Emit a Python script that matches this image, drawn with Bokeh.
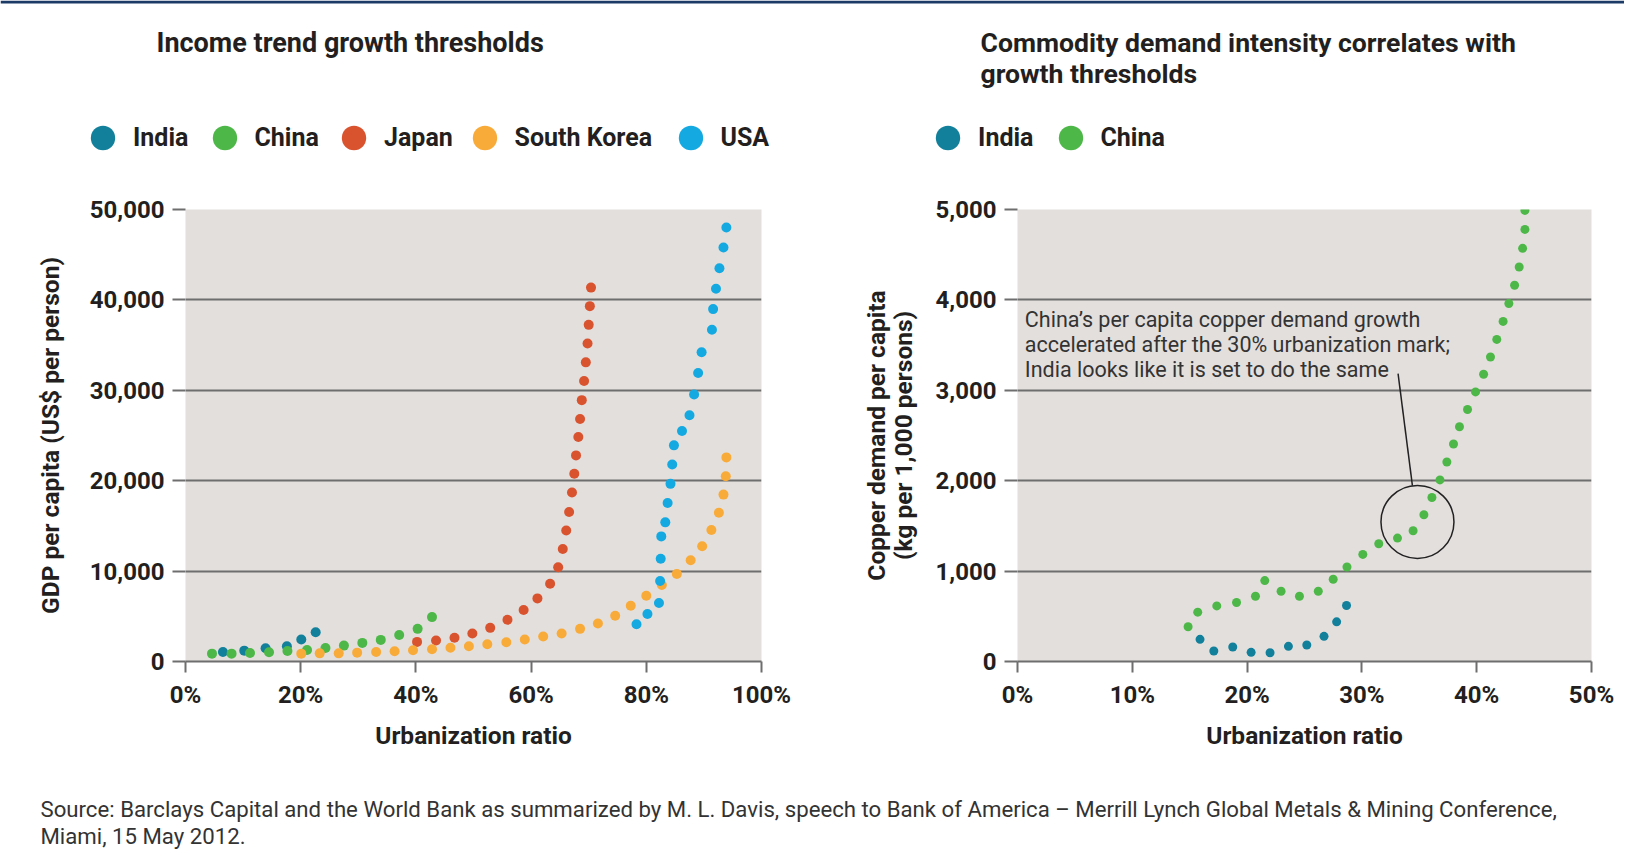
from bokeh.plotting import figure
from bokeh.models import (Legend, LegendItem, Label, FixedTicker, NumeralTickFormatter, Range1d, Span)
from bokeh.layouts import row, column
from bokeh.embed import file_html
from bokeh.resources import INLINE

# ---------------- data: left chart (urbanization %, GDP per capita US$) ----------------
india_x = [6.5, 10.2, 13.9, 17.6, 20.1, 22.6]
india_y = [1060, 1200, 1460, 1690, 2430, 3240]

china_x = [4.6, 8.0, 11.2, 14.5, 17.7, 21.1, 24.3, 27.5, 30.7, 33.9, 37.1, 40.3, 42.8]
china_y = [870, 870, 940, 1020, 1170, 1280, 1500, 1760, 2060, 2390, 2940, 3610, 4910]

japan_x = [40.2, 43.5, 46.7, 49.8, 52.9, 55.9, 58.7, 61.1, 63.3, 64.7, 65.5, 66.1, 66.6,
           67.1, 67.5, 67.8, 68.2, 68.5, 68.8, 69.2, 69.5, 69.8, 70.0, 70.2, 70.4]
japan_y = [2170, 2330, 2630, 3090, 3720, 4610, 5690, 6980, 8610, 10420, 12440, 14500, 16530,
           18690, 20760, 22800, 24830, 26830, 28910, 31020, 33090, 35170, 37240, 39310, 41360]

korea_x = [20.1, 23.3, 26.6, 29.8, 33.1, 36.3, 39.5, 42.8, 46.0, 49.2, 52.4, 55.7, 58.9, 62.1,
           65.3, 68.5, 71.6, 74.6, 77.3, 80.0, 82.7, 85.3, 87.7, 89.7, 91.3, 92.6, 93.4, 93.8, 93.9]
korea_y = [870, 900, 900, 980, 1060, 1130, 1240, 1350, 1520, 1690, 1910, 2130, 2430, 2760,
           3090, 3610, 4200, 5060, 6170, 7280, 8470, 9690, 11200, 12740, 14540, 16460, 18460, 20500, 22580]

usa_x = [78.3, 80.2, 82.2, 82.4, 82.5, 82.6, 83.3, 83.7, 84.2, 84.5, 84.8, 86.2, 87.5, 88.3,
         89.0, 89.6, 91.4, 91.6, 92.1, 92.7, 93.4, 93.9]
usa_y = [4130, 5260, 6480, 8900, 11360, 13840, 15390, 17540, 19650, 21800, 23910, 25500, 27240, 29530,
         31910, 34200, 36690, 38980, 41240, 43500, 45800, 48000]

# ---------------- data: right chart (urbanization %, copper kg per 1,000 persons) ----------------
india_cu_x = [15.9, 17.1, 18.75, 20.35, 22.0, 23.6, 25.2, 26.7, 27.8, 28.66]
india_cu_y = [245, 116, 160, 101, 97, 168, 182, 278, 439, 620]

china_cu_x = [14.86, 15.7, 17.36, 19.08, 20.73, 21.54, 22.96, 24.56, 26.2, 27.5, 28.7, 30.08, 31.47,
              33.1, 34.46, 35.4, 36.1, 36.8, 37.4, 37.98, 38.5, 39.2, 39.9, 40.6, 41.2, 41.75, 42.3,
              42.8, 43.3, 43.7, 44.0, 44.2, 44.2]
china_cu_y = [384, 546, 615, 653, 722, 895, 777, 722, 777, 910, 1045, 1185, 1303,
              1365, 1446, 1623, 1814, 2009, 2207, 2406, 2597, 2788, 2982, 3178, 3368, 3563, 3762,
              3960, 4162, 4364, 4570, 4780, 4990]

left_xticks = [0, 20, 40, 60, 80, 100]
left_xlabels = ["0%", "20%", "40%", "60%", "80%", "100%"]
left_yticks = [0, 10000, 20000, 30000, 40000, 50000]
right_xticks = [0, 10, 20, 30, 40, 50]
right_xlabels = ["0%", "10%", "20%", "30%", "40%", "50%"]
right_yticks = [0, 1000, 2000, 3000, 4000, 5000]

left_names = ["India", "China", "Japan", "South Korea", "USA"]
right_names = ["India", "China"]

left_title = "Income trend growth thresholds"
right_title = ["Commodity demand intensity correlates with", "growth thresholds"]
left_ylabel = "GDP per capita (US$ per person)"
right_ylabel = "Copper demand per capita\n(kg per 1,000 persons)"
xlabel = "Urbanization ratio"

note_lines = ["China\u2019s per capita copper demand growth",
              "accelerated after the 30% urbanization mark;",
              "India looks like it is set to do the same"]

source_lines = ["Source: Barclays Capital and the World Bank as summarized by M. L. Davis, speech to Bank of America \u2013 Merrill Lynch Global Metals & Mining Conference,",
                "Miami, 15 May 2012."]

# ---------------- styling ----------------
FONT = "Roboto"
TXT = "#231f20"
GRID = "#6e6e6e"
BG = "#e3dfdd"
C_INDIA = "#12809b"
C_CHINA = "#4db848"
C_JAPAN = "#d9532f"
C_KOREA = "#f9ab3a"
C_USA = "#14a9e1"
left_colors = [C_INDIA, C_CHINA, C_JAPAN, C_KOREA, C_USA]
right_colors = [C_INDIA, C_CHINA]

TOTAL_W = 1624
HEAD_H = 170
TOP_H = 600
FOOT_H = 80
FRAME_TOP = 209 - HEAD_H
FRAME_H = 452
W1 = 812
W2 = TOTAL_W - W1

# legend swatch centres (page pixels) in the header
left_legend_cx = [102.5, 224, 353.5, 484, 690]
right_legend_cx = [947.6, 1070]
LEGEND_CY = 137
GLYPH = 61


def base_fig(width, border_left, frame_w, xmax, ymax, xticks, xlabels, yticks, ylabel, ystandoff):
    p = figure(width=width, height=TOP_H, x_range=Range1d(0, xmax), y_range=Range1d(0, ymax),
               output_backend="svg", toolbar_location=None,
               min_border_left=border_left, min_border_right=width - border_left - frame_w,
               min_border_top=FRAME_TOP, min_border_bottom=TOP_H - FRAME_TOP - FRAME_H)
    p.background_fill_color = BG
    p.border_fill_color = "white"
    p.outline_line_color = None
    p.xgrid.grid_line_color = None
    p.ygrid.grid_line_color = GRID
    p.ygrid.grid_line_width = 2
    p.ygrid.ticker = FixedTicker(ticks=yticks)

    xa = p.xaxis[0]
    xa.ticker = FixedTicker(ticks=xticks)
    xa.major_label_overrides = {t: l for t, l in zip(xticks, xlabels)}
    xa.axis_line_color = GRID
    xa.axis_line_width = 2
    xa.major_tick_line_color = GRID
    xa.major_tick_line_width = 2
    xa.major_tick_in = 0
    xa.major_tick_out = 11
    xa.minor_tick_line_color = None
    xa.major_label_standoff = 8
    xa.major_label_text_font = FONT
    xa.major_label_text_font_style = "bold"
    xa.major_label_text_font_size = "24px"
    xa.major_label_text_color = TXT
    xa.axis_label = xlabel
    xa.axis_label_standoff = 9
    xa.axis_label_text_font = FONT
    xa.axis_label_text_font_style = "bold"
    xa.axis_label_text_font_size = "24.5px"
    xa.axis_label_text_color = TXT

    ya = p.yaxis[0]
    ya.ticker = FixedTicker(ticks=yticks)
    ya.formatter = NumeralTickFormatter(format="0,0")
    ya.axis_line_color = None
    ya.major_tick_line_color = GRID
    ya.major_tick_line_width = 2
    ya.major_tick_in = 0
    ya.major_tick_out = 13
    ya.minor_tick_line_color = None
    ya.major_label_standoff = 8
    ya.major_label_text_font = FONT
    ya.major_label_text_font_style = "bold"
    ya.major_label_text_font_size = "24px"
    ya.major_label_text_color = TXT
    ya.axis_label = ylabel
    ya.axis_label_standoff = ystandoff
    ya.axis_label_text_font = FONT
    ya.axis_label_text_font_style = "bold"
    ya.axis_label_text_font_size = "24.5px"
    ya.axis_label_text_line_height = 0.92
    ya.axis_label_text_color = TXT
    return p


# ---------------- header: titles and legends ----------------
head = figure(width=TOTAL_W, height=HEAD_H, x_range=Range1d(0, 1), y_range=Range1d(0, 1),
              output_backend="svg", toolbar_location=None, min_border=0,
              x_axis_location=None, y_axis_location=None)
head.outline_line_color = None
head.xgrid.visible = False
head.ygrid.visible = False
head.add_layout(Span(location=HEAD_H - 1.5, location_units="screen", dimension="width",
                     line_color="#1c3a66", line_width=3))


def head_label(x, y_top, text, size="26.6px", bold=True):
    head.add_layout(Label(x=x, y=HEAD_H - y_top, x_units="screen", y_units="screen", text=text,
                          text_font=FONT, text_font_style="bold" if bold else "normal",
                          text_font_size=size, text_color=TXT, text_baseline="middle"))


head_label(156, 42, left_title, "27px")
head_label(980, 42, right_title[0])
head_label(980, 73, right_title[1])


def head_legend(names, colors, data, centers):
    # the legend swatches reuse the real series (they fall outside this header's 0..1 view)
    for n, c, (xs, ys), cx in zip(names, colors, data, centers):
        r = head.scatter(xs, ys, marker="circle", fill_color=c, line_color=None, size=1)
        leg = Legend(items=[LegendItem(label=n, renderers=[r])], orientation="horizontal",
                     location=(cx - GLYPH / 2, HEAD_H - (LEGEND_CY + GLYPH / 2)),
                     glyph_width=GLYPH, glyph_height=GLYPH, label_standoff=0, spacing=0,
                     padding=0, margin=0, border_line_color=None, background_fill_alpha=0,
                     label_text_font=FONT, label_text_font_style="bold",
                     label_text_font_size="25px", label_text_color=TXT)
        head.add_layout(leg, "center")


head_legend(left_names, left_colors,
            [(india_x, india_y), (china_x, china_y), (japan_x, japan_y), (korea_x, korea_y), (usa_x, usa_y)],
            left_legend_cx)
head_legend(right_names, right_colors, [(india_cu_x, india_cu_y), (china_cu_x, china_cu_y)], right_legend_cx)

# ---------------- left chart ----------------
left = base_fig(W1, 185, 576, 100, 50000, left_xticks, left_xlabels, left_yticks, left_ylabel, 22)
series = [(india_x, india_y), (china_x, china_y), (japan_x, japan_y), (korea_x, korea_y), (usa_x, usa_y)]
for (xs, ys), c in zip(series, left_colors):
    left.scatter(xs, ys, size=10, marker="circle", fill_color=c, line_color=None)

# ---------------- right chart ----------------
right = base_fig(W2, 1017 - W1, 574, 50, 5000, right_xticks, right_xlabels, right_yticks, right_ylabel, 15)
right.scatter(india_cu_x, india_cu_y, size=9, marker="circle", fill_color=C_INDIA, line_color=None)
right.scatter(china_cu_x, china_cu_y, size=9, marker="circle", fill_color=C_CHINA, line_color=None)

# annotation: circle, leader line and note text
right.scatter([34.84], [1544], size=73, marker="circle", fill_color=None, line_color="#222222", line_width=1.5)
right.segment(x0=[33.15], y0=[3184], x1=[34.4], y1=[1946], line_color="#222222", line_width=1.5)
for i, t in enumerate(note_lines):
    right.add_layout(Label(x=0.64, y=3787 - i * 276, text=t, text_font=FONT, text_font_size="21.5px",
                           text_color="#333333", text_baseline="middle"))

# ---------------- footer ----------------
foot = figure(width=TOTAL_W, height=FOOT_H, x_range=Range1d(0, 1), y_range=Range1d(0, 1),
              output_backend="svg", toolbar_location=None, min_border=0,
              x_axis_location=None, y_axis_location=None)
foot.outline_line_color = None
foot.xgrid.visible = False
foot.ygrid.visible = False
for i, t in enumerate(source_lines):
    foot.add_layout(Label(x=40, y=FOOT_H - (808 - HEAD_H - TOP_H) - i * 27, x_units="screen", y_units="screen",
                          text=t, text_font=FONT, text_font_size="22.2px", text_color="#333333",
                          text_baseline="middle"))

page = column(head, row(left, right), foot)
open("out.html", "w").write(file_html(page, INLINE))
